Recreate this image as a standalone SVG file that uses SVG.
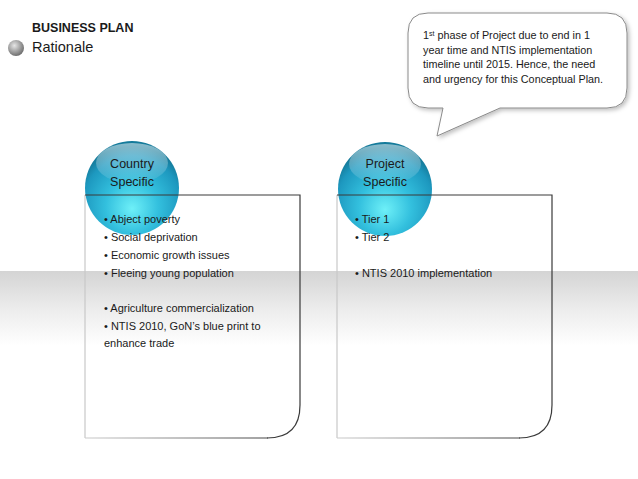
<svg xmlns="http://www.w3.org/2000/svg" width="638" height="479" viewBox="0 0 638 479">
<defs>
<linearGradient id="band" x1="0" y1="0" x2="0" y2="1">
<stop offset="0" stop-color="#d4d4d4"/>
<stop offset="0.5" stop-color="#ececec"/>
<stop offset="1" stop-color="#ffffff"/>
</linearGradient>
<radialGradient id="ball" cx="0.5" cy="0.68" r="0.62" fx="0.5" fy="0.72">
<stop offset="0" stop-color="#6ef0f8"/>
<stop offset="0.45" stop-color="#33c0de"/>
<stop offset="0.85" stop-color="#1d98bf"/>
<stop offset="1" stop-color="#157b9b"/>
</radialGradient>
<linearGradient id="shine" x1="0" y1="0" x2="0" y2="1">
<stop offset="0" stop-color="#ffffff" stop-opacity="0.5"/>
<stop offset="1" stop-color="#ffffff" stop-opacity="0.05"/>
</linearGradient>
<radialGradient id="grayball" cx="0.4" cy="0.35" r="0.7">
<stop offset="0" stop-color="#e6e6e6"/>
<stop offset="0.6" stop-color="#9a9a9a"/>
<stop offset="1" stop-color="#666666"/>
</radialGradient>
<linearGradient id="edge1" gradientUnits="userSpaceOnUse" x1="85" y1="0" x2="268" y2="0">
<stop offset="0" stop-color="#cccccc"/>
<stop offset="1" stop-color="#444444"/>
</linearGradient>
<linearGradient id="edge2" gradientUnits="userSpaceOnUse" x1="337" y1="0" x2="520" y2="0">
<stop offset="0" stop-color="#cccccc"/>
<stop offset="1" stop-color="#444444"/>
</linearGradient>
<filter id="sh" x="-10%" y="-10%" width="130%" height="130%">
<feDropShadow dx="2" dy="2" stdDeviation="2" flood-color="#000" flood-opacity="0.25"/>
</filter>
</defs>
<style>
.t{font-family:"Liberation Sans","DejaVu Sans",sans-serif;fill:#1a1a1a}
.b{font-size:11px}
.h{font-size:12.5px;text-anchor:middle}
.c{font-size:10.8px}
.dark{fill:none;stroke:#3a3a3a;stroke-width:1.2}
.light{fill:none;stroke:#c8c8c8;stroke-width:1.2}
</style>
<rect x="0" y="0" width="638" height="479" fill="#ffffff"/>
<rect x="0" y="271" width="638" height="75" fill="url(#band)"/>

<g id="title">
<circle cx="16" cy="48" r="8" fill="url(#grayball)"/>
<text class="t" x="32" y="32" font-size="12.5" font-weight="bold">BUSINESS PLAN</text>
<text class="t" x="32" y="52" font-size="14.5" fill="#222">Rationale</text>
</g>

<g id="callout">
<path d="M428,13 H607 Q627,13 627,33 V88 Q627,108 607,108 H500 L437,136 L443,108 H428 Q408,108 408,88 V33 Q408,13 428,13 Z" fill="#ffffff" stroke="#8a8a8a" stroke-width="1" filter="url(#sh)"/>
<text class="t c" x="423" y="39">1<tspan font-size="7" dy="-3.5">st</tspan><tspan dy="3.5"> phase of Project due to end in 1</tspan></text>
<text class="t c" x="423" y="54">year time and NTIS implementation</text>
<text class="t c" x="423" y="68">timeline until 2015. Hence, the need</text>
<text class="t c" x="423" y="83">and urgency for this Conceptual Plan.</text>
</g>

<g id="country">
<circle cx="132" cy="188" r="47" fill="url(#ball)"/>
<ellipse cx="132" cy="163" rx="36" ry="20" fill="url(#shine)"/>
<line class="light" x1="85" y1="195" x2="85" y2="438"/>
<path class="dark" d="M85,195 H300 V405 Q300,438 267,438"/>
<line x1="85" y1="438" x2="268" y2="438" stroke="url(#edge1)" stroke-width="1.2"/>
<text class="t h" x="132" y="168">Country</text>
<text class="t h" x="132" y="186">Specific</text>
<text class="t b" x="104" y="223">• Abject poverty</text>
<text class="t b" x="104" y="241">• Social deprivation</text>
<text class="t b" x="104" y="259">• Economic growth issues</text>
<text class="t b" x="104" y="277">• Fleeing young population</text>
<text class="t b" x="104" y="312">• Agriculture  commercialization</text>
<text class="t b" x="104" y="330">• NTIS 2010, GoN’s blue print to</text>
<text class="t b" x="104" y="347">enhance trade</text>
</g>

<g id="project">
<circle cx="385" cy="189" r="47" fill="url(#ball)"/>
<ellipse cx="385" cy="164" rx="36" ry="20" fill="url(#shine)"/>
<line class="light" x1="337" y1="195" x2="337" y2="438"/>
<path class="dark" d="M337,195 H552 V405 Q552,438 519,438"/>
<line x1="337" y1="438" x2="520" y2="438" stroke="url(#edge2)" stroke-width="1.2"/>
<text class="t h" x="385" y="168">Project</text>
<text class="t h" x="385" y="186">Specific</text>
<text class="t b" x="355" y="223">• Tier 1</text>
<text class="t b" x="355" y="241">• Tier 2</text>
<text class="t b" x="355" y="277">• NTIS 2010 implementation</text>
</g>
</svg>
